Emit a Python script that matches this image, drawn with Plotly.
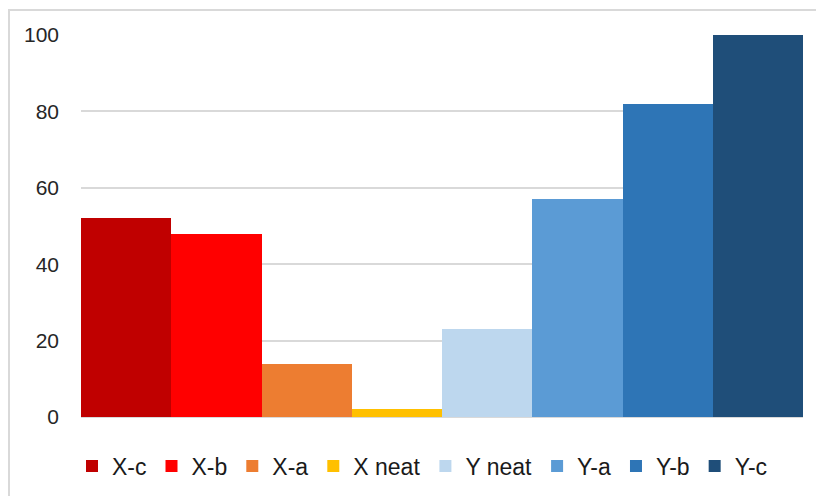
import plotly.graph_objects as go

series_names = ["X-c", "X-b", "X-a", "X neat", "Y neat", "Y-a", "Y-b", "Y-c"]
series_values = [52, 48, 14, 2, 23, 57, 82, 100]
series_colors = ["#C00000", "#FF0000", "#ED7D31", "#FFC000",
                 "#BDD7EE", "#5B9BD5", "#2E75B6", "#1F4E79"]
category = [""]
y_ticks = [0, 20, 40, 60, 80, 100]

fig = go.Figure()
for name, val, col in zip(series_names, series_values, series_colors):
    fig.add_trace(go.Bar(x=category, y=[val], name=name,
                         marker=dict(color=col, line=dict(width=0))))

W, H = 816, 496
ml, mr, mt, mb = 81, 13, 35, 79
pw, ph = W - ml - mr, H - mt - mb

def px_x(p):
    return (p - ml) / pw

def px_y(p):
    return (H - mb - p) / ph

fig.update_layout(
    width=W, height=H,
    margin=dict(l=ml, r=mr, t=mt, b=mb, pad=0, autoexpand=False),
    barmode="group", bargap=0, bargroupgap=0,
    plot_bgcolor="white", paper_bgcolor="white",
    font=dict(family="Liberation Sans, Arial, sans-serif", color="#262626"),
    showlegend=True,
    legend=dict(orientation="h", x=px_x(72), xanchor="left",
                y=px_y(466), yanchor="middle",
                font=dict(size=23, color="#1a1a1a"),
                traceorder="normal", itemclick=False),
    xaxis=dict(showticklabels=False, showgrid=False, zeroline=False,
               showline=False, ticks=""),
    yaxis=dict(range=[0, 100], tickvals=y_ticks, showgrid=True,
               gridcolor="#d9d9d9", gridwidth=1.5, zeroline=True,
               zerolinecolor="#d9d9d9", zerolinewidth=1.5, showline=False,
               ticks="", ticklabelstandoff=21,
               tickfont=dict(size=21, color="#262626")),
    shapes=[dict(type="rect", xref="paper", yref="paper",
                 x0=px_x(9), x1=px_x(830), y0=px_y(520), y1=px_y(10),
                 line=dict(color="#d9d9d9", width=2), layer="below")],
)

fig.write_html("out.html")
